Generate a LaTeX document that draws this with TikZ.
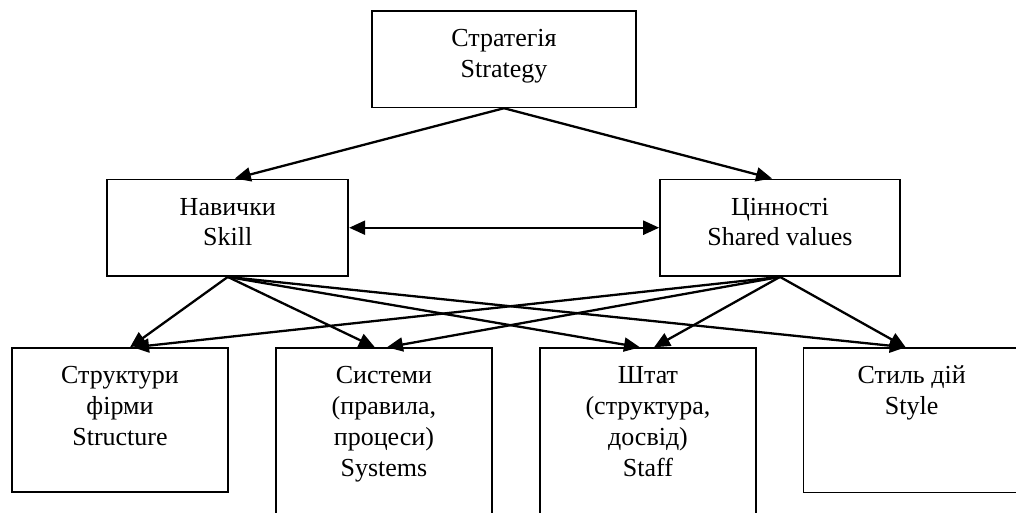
\documentclass[tikz,border=0pt]{standalone}
\usepackage{fontspec}
\setmainfont{Liberation Serif}
\usetikzlibrary{arrows.meta}
\newcommand\boxtxt[3]{\begin{minipage}[c][#2][t]{#1}\centering\rule{0pt}{35.7pt}#3\end{minipage}}
\tikzset{
  mybox/.style={draw, line width=1.7pt, inner sep=0pt, font=\fontsize{26pt}{30.8pt}\selectfont},
  conn/.style={line width=2.3pt, -{Triangle[length=16pt,width=14pt]}},
  dconn/.style={line width=2.3pt, {Triangle[length=16pt,width=14pt]}-{Triangle[length=16pt,width=14pt]}}
}
\begin{document}
\begin{tikzpicture}[x=1pt,y=-1pt]
\useasboundingbox (0,0) rectangle (1016,512);
\clip (0,0) rectangle (1016,512);
\fill[white] (0,0) rectangle (1016,512);
% top
\node[mybox] (strat) at (504,59.2) {\boxtxt{264.6pt}{96.3pt}{Стратегія\\Strategy}};
% middle
\node[mybox] (skill) at (227.8,227.7) {\boxtxt{241pt}{96.7pt}{Навички\\Skill}};
\node[mybox] (values) at (780,227.7) {\boxtxt{240pt}{96.7pt}{Цінності\\Shared values}};
% bottom
\node[mybox, anchor=north] (struct) at (120,347.3) {\boxtxt{216.6pt}{143.7pt}{Структури\\фірми\\Structure}};
\node[mybox, anchor=north] (systems) at (383.9,347.3) {\boxtxt{216.2pt}{185pt}{Системи\\(правила,\\процеси)\\Systems}};
\node[mybox, anchor=north] (staff) at (648,347.3) {\boxtxt{216pt}{185pt}{Штат\\(структура,\\досвід)\\Staff}};
\node[mybox, anchor=north] (style) at (911.7,347.3) {\boxtxt{216.7pt}{144.2pt}{Стиль дій\\Style}};
% connectors
\draw[conn] (strat.south) -- ([xshift=7pt]skill.north);
\draw[conn] (strat.south) -- ([xshift=-8pt]values.north);
\draw[dconn] (skill.east) -- (values.west);
\draw[conn] (skill.south) -- ([xshift=10pt]struct.north);
\draw[conn] (skill.south) -- ([xshift=-9pt]systems.north);
\draw[conn] (skill.south) -- ([xshift=-8pt]staff.north);
\draw[conn] (skill.south) -- ([xshift=-6pt]style.north);
\draw[conn] (values.south) -- ([xshift=13pt]struct.north);
\draw[conn] (values.south) -- ([xshift=3pt]systems.north);
\draw[conn] (values.south) -- ([xshift=6pt]staff.north);
\draw[conn] (values.south) -- ([xshift=-6pt]style.north);
\end{tikzpicture}
\end{document}
